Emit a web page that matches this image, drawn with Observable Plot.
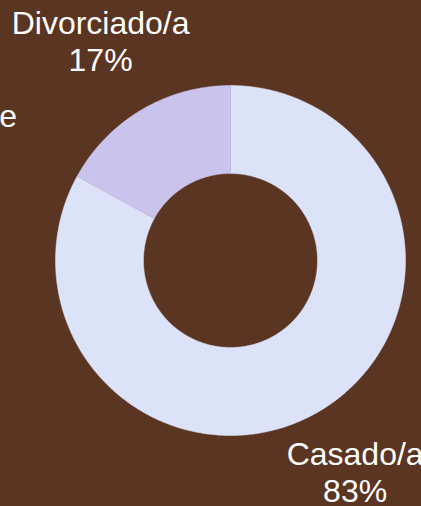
<!DOCTYPE html>
<html>
<head>
<meta charset="utf-8">
<script src="https://cdn.jsdelivr.net/npm/d3@7"></script>
<script src="https://cdn.jsdelivr.net/npm/@observablehq/plot@0.6"></script>
<style>
  html, body { margin: 0; padding: 0; background: #5a3522; overflow: hidden; }
  #wrap { position: relative; width: 421px; height: 506px; overflow: hidden; }
  #side { position: absolute; left: 17px; top: 98px; transform: translateX(-100%);
          font-family: "Liberation Sans", Arial, sans-serif; font-size: 32px; color: #ffffff; white-space: nowrap; }
</style>
</head>
<body>
<div id="wrap">
  <div id="side">Estado civil del cliente</div>
</div>
<script>
const categories = ["Casado/a", "Divorciado/a"];
const values = [83, 17];
const colors = ["#dce3f9", "#cac3ec"];

const W = 421, H = 506;
const cx = 230, cy = 260;
const rOuter = 175, rInner = 87, labelGap = 3;
const fontSize = 32, lineH = 1.16;
const font = `${fontSize}px 'Liberation Sans', Arial, sans-serif`;

const data = categories.map((c, i) => ({category: c, value: values[i]}));
const total = d3.sum(values);
const arcs = d3.pie().value(d => d.value).sort(null)(data);

// polygon points for each donut slice, derived from pie angles
const pts = [];
arcs.forEach(a => {
  const n = Math.max(8, Math.ceil((a.endAngle - a.startAngle) / 0.01));
  for (let k = 0; k <= n; k++) {
    const t = a.startAngle + (a.endAngle - a.startAngle) * k / n;
    pts.push({category: a.data.category, x: rOuter * Math.sin(t), y: rOuter * Math.cos(t)});
  }
  for (let k = n; k >= 0; k--) {
    const t = a.startAngle + (a.endAngle - a.startAngle) * k / n;
    pts.push({category: a.data.category, x: rInner * Math.sin(t), y: rInner * Math.cos(t)});
  }
});

const ctx = document.createElement("canvas").getContext("2d");
ctx.font = font;
const labels = arcs.map(a => {
  const m = (a.startAngle + a.endAngle) / 2;
  const lines = [a.data.category, `${Math.round(a.data.value / total * 100)}%`];
  const w = d3.max(lines, l => ctx.measureText(l).width);
  const h = lines.length * fontSize * lineH;
  const sx = Math.sin(m), sy = Math.cos(m);
  const r = rOuter + labelGap + Math.abs(sx) * w / 2 + Math.abs(sy) * h / 2;
  return {x: r * sx, y: r * sy, text: lines.join("\n")};
});

const chart = Plot.plot({
  width: W,
  height: H,
  margin: 0,
  style: {background: "#5a3522", fontFamily: "'Liberation Sans', Arial, sans-serif", overflow: "hidden"},
  x: {domain: [-cx, W - cx], axis: null},
  y: {domain: [-(H - cy), cy], axis: null},
  color: {domain: categories, range: colors},
  marks: [
    Plot.line(pts, {x: "x", y: "y", z: "category", fill: "category", stroke: "category", strokeWidth: 0.5, curve: "linear-closed"}),
    Plot.text(labels, {x: "x", y: "y", text: "text", fill: "#ffffff", fontSize, lineHeight: lineH, textAnchor: "middle"})
  ]
});
document.getElementById("wrap").prepend(chart);
</script>
</body>
</html>
